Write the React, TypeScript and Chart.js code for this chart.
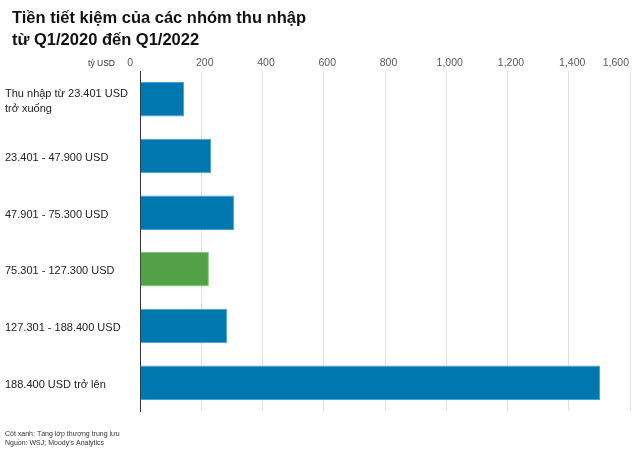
import React, { useEffect, useRef } from "react";
import { Chart, registerables } from "chart.js";

Chart.register(...registerables);

const TITLE_LINES = ["Tiền tiết kiệm của các nhóm thu nhập", "từ Q1/2020 đến Q1/2022"];
const CATEGORIES: (string | string[])[] = [
  ["Thu nhập từ 23.401 USD", "trở xuống"],
  "23.401 - 47.900 USD",
  "47.901 - 75.300 USD",
  "75.301 - 127.300 USD",
  "127.301 - 188.400 USD",
  "188.400 USD trở lên",
];
const VALUES = [144, 232, 308, 225, 285, 1502];
const IS_HIGHLIGHT = [false, false, false, true, false, false];
const X_TICKS = [0, 200, 400, 600, 800, 1000, 1200, 1400, 1600];
const UNIT_LABEL = "tỷ USD";
const NOTES = ["Cột xanh: Tầng lớp thượng trung lưu", "Nguồn: WSJ; Moody's Analytics"];

const BLUE = "#0077ae";
const BLUE_EDGE = "#45a3d2";
const GREEN = "#53a147";
const GREEN_EDGE = "#86c57d";

const SANS = "'Liberation Sans', Arial, Helvetica, sans-serif";

const overlayPlugin = {
  id: "overlay",
  afterDraw(chart: any) {
    const ctx = chart.ctx as CanvasRenderingContext2D;
    const xScale = chart.scales.x;
    ctx.save();
    // Title
    ctx.fillStyle = "#111";
    ctx.font = `bold 16.5px ${SANS}`;
    ctx.textAlign = "left";
    ctx.textBaseline = "alphabetic";
    TITLE_LINES.forEach((t, i) => ctx.fillText(t, 12, 23 + i * 22));

    // X tick labels
    ctx.font = `10.5px ${SANS}`;
    ctx.fillStyle = "#5a5a5a";
    ctx.textBaseline = "middle";
    X_TICKS.forEach((v, i) => {
      const px = xScale.getPixelForValue(v);
      const label = v.toLocaleString("en-US");
      if (i === 0) {
        ctx.textAlign = "right";
        ctx.fillText(label, px - 7, 63.5);
      } else if (i === X_TICKS.length - 1) {
        ctx.textAlign = "right";
        ctx.fillText(label, px - 1, 63.5);
      } else {
        ctx.textAlign = "center";
        ctx.fillText(label, px + 3.5, 63.5);
      }
    });

    // Unit label
    ctx.font = `8.5px ${SANS}`;
    ctx.fillStyle = "#333";
    ctx.textAlign = "right";
    ctx.fillText(UNIT_LABEL, 115, 63.5);

    // Notes
    ctx.font = `7px ${SANS}`;
    ctx.fillStyle = "#333";
    ctx.textAlign = "left";
    NOTES.forEach((t, i) => ctx.fillText(t, 5, 434 + i * 9));
    ctx.restore();
  },
};

export default function App() {
  const canvasRef = useRef<HTMLCanvasElement | null>(null);

  useEffect(() => {
    document.body.style.margin = "0";
    const canvas = canvasRef.current;
    if (!canvas) return;
    const chart = new Chart(canvas, {
      type: "bar",
      data: {
        labels: CATEGORIES as any,
        datasets: [
          {
            data: VALUES,
            backgroundColor: IS_HIGHLIGHT.map((h) => (h ? GREEN : BLUE)),
            borderColor: IS_HIGHLIGHT.map((h) => (h ? GREEN_EDGE : BLUE_EDGE)),
            borderWidth: 1,
            barPercentage: 0.61,
            categoryPercentage: 1,
          },
        ],
      },
      options: {
        indexAxis: "y",
        animation: false,
        responsive: false,
        maintainAspectRatio: false,
        layout: { padding: { left: 5, top: 71, right: 10, bottom: 52 } },
        plugins: {
          legend: { display: false },
          tooltip: { enabled: false },
          title: { display: false },
        },
        scales: {
          x: {
            position: "top",
            min: 0,
            max: 1600,
            ticks: { display: false, stepSize: 200 },
            grid: { color: "#e2e2e2", lineWidth: 1, drawTicks: false },
            border: { display: false },
          },
          y: {
            position: "left",
            grid: { display: false, drawTicks: false },
            border: { display: true, color: "#333", width: 1 },
            ticks: {
              crossAlign: "far",
              padding: 0,
              labelOffset: 2,
              color: "#222",
              font: { family: SANS, size: 11, lineHeight: 1.33 },
            },
            afterFit: (scale: any) => {
              scale.width = 135;
            },
          },
        },
      },
      plugins: [overlayPlugin],
    });
    return () => chart.destroy();
  }, []);

  return (
    <div style={{ width: 640, height: 463 }}>
      <canvas ref={canvasRef} width={640} height={463} style={{ width: 640, height: 463, display: "block" }} />
    </div>
  );
}
